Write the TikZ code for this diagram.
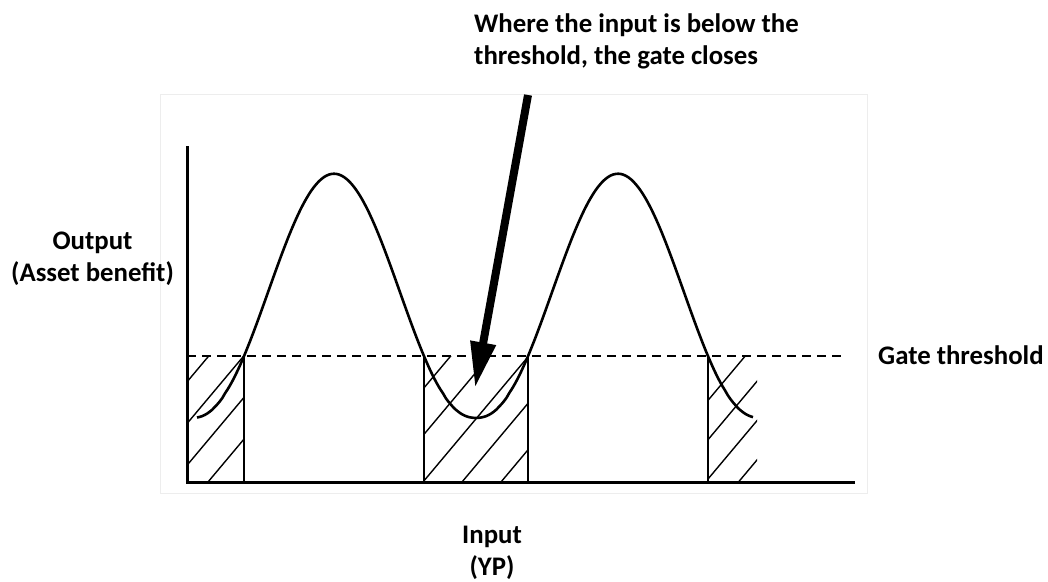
\documentclass[tikz,border=0pt]{standalone}
\usepackage{fontspec}
\setmainfont{Carlito}
\usetikzlibrary{arrows.meta}
\begin{document}
\begin{tikzpicture}[x=1pt,y=-1pt,
  lbl/.style={font=\bfseries\fontsize{26.8}{32}\selectfont, inner sep=0pt},
  axisline/.style={line width=3pt},
  gateline/.style={line width=2.8pt},
  hatchline/.style={line width=1.4pt},
  curveline/.style={line width=2.6pt},
  thr/.style={line width=1.4pt, dash pattern=on 9pt off 6pt},
  bigarrow/.style={line width=8pt, -{Triangle[length=46pt,width=24pt]}},
  framebox/.style={draw=black!7, line width=1pt}
]
\useasboundingbox (0,0) rectangle (1048,581);
% faint frame of the chart image
\draw[framebox] (160,94) rectangle (867,493);

% hatched regions
\begin{scope}
  \clip (187,356) rectangle (244,482);
  \foreach \b in {68,103,...,243} \draw[hatchline] (\b-16.8,502) -- (\b+122.5,336);
\end{scope}
\begin{scope}
  \clip (424,356) rectangle (528,482);
  \foreach \b in {345,384,...,501} \draw[hatchline] (\b-16.8,502) -- (\b+122.5,336);
\end{scope}
\begin{scope}
  \clip (708,356) rectangle (757,482);
  \foreach \b in {639.5,672.5,...,738.5} \draw[hatchline] (\b-16.8,502) -- (\b+122.5,336);
\end{scope}

% threshold
\coordinate (thrL) at (187,356);
\coordinate (thrR) at (846,356);
\draw[thr] (thrL) -- (thrR);

% gate lines
\foreach \gx [count=\i] in {244,424,528,708} {
  \coordinate (gt\i) at (\gx,356);
  \coordinate (gb\i) at (\gx,482);
  \draw[gateline] (gt\i) -- (gb\i);
}

% curve
\draw[curveline, smooth, samples=220, domain=197:753, variable=\t]
  plot ({\t},{418-244*exp(1.13*ln(0.001+(1+cos((\t-334)*1.26761))/2))});

% axes
\coordinate (ytop) at (187,146);
\coordinate (origin) at (187,482);
\coordinate (xend) at (855,482);
\draw[axisline] (ytop) -- (origin) -- (xend);

% arrow
\coordinate (arrowstart) at (528,95);
\coordinate (arrowtip) at (475,388);
\draw[bigarrow] (arrowstart) -- (arrowtip);

% labels (base anchor = baseline of the last line)
\node[lbl, anchor=base west, align=left] (note) at (474,64)
  {Where the input is below the\\threshold, the gate closes};
\node[lbl, anchor=base, align=center] (ylabel) at (92.5,281)
  {Output\\(Asset benefit)};
\node[lbl, anchor=base west] (thrlabel) at (878,364) {Gate threshold};
\node[lbl, anchor=base, align=center] (xlabel) at (492,575)
  {Input\\(YP)};
\end{tikzpicture}
\end{document}
